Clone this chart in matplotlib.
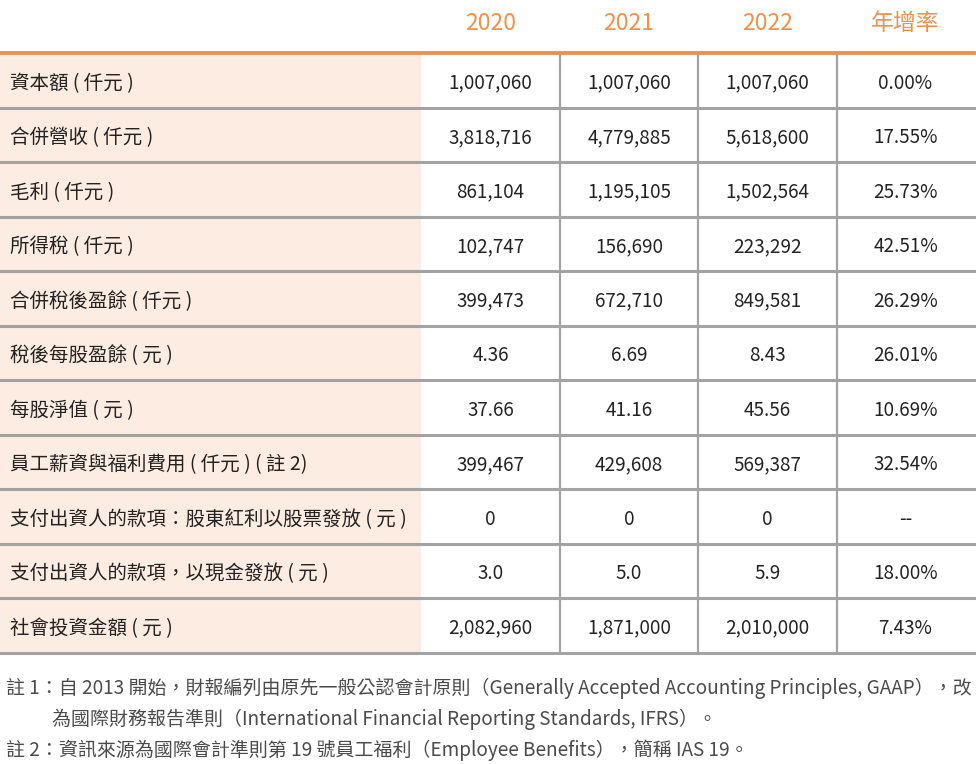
"""Key financial figures table, 2020-2022."""
import matplotlib
matplotlib.use("Agg")
import matplotlib.pyplot as plt

plt.rcParams["font.family"] = ["Noto Sans CJK TC", "DejaVu Sans"]

headers = ["2020", "2021", "2022", "年增率"]
labels = ["資本額 ( 仟元 )", "合併營收 ( 仟元 )", "毛利 ( 仟元 )", "所得稅 ( 仟元 )",
          "合併稅後盈餘 ( 仟元 )", "稅後每股盈餘 ( 元 )", "每股淨值 ( 元 )",
          "員工薪資與福利費用 ( 仟元 ) ( 註 2)", "支付出資人的款項：股東紅利以股票發放 ( 元 )",
          "支付出資人的款項，以現金發放 ( 元 )", "社會投資金額 ( 元 )"]
v2020 = ["1,007,060", "3,818,716", "861,104", "102,747", "399,473", "4.36", "37.66",
         "399,467", "0", "3.0", "2,082,960"]
v2021 = ["1,007,060", "4,779,885", "1,195,105", "156,690", "672,710", "6.69", "41.16",
         "429,608", "0", "5.0", "1,871,000"]
v2022 = ["1,007,060", "5,618,600", "1,502,564", "223,292", "849,581", "8.43", "45.56",
         "569,387", "0", "5.9", "2,010,000"]
growth = ["0.00%", "17.55%", "25.73%", "42.51%", "26.29%", "26.01%", "10.69%",
          "32.54%", "--", "18.00%", "7.43%"]
notes = ["註 1：自 2013 開始，財報編列由原先一般公認會計原則（Generally Accepted Accounting Principles, GAAP），改",
         "為國際財務報告準則（International Financial Reporting Standards, IFRS）。",
         "註 2：資訊來源為國際會計準則第 19 號員工福利（Employee Benefits），簡稱 IAS 19。"]

ORANGE = "#F0904A"
PEACH = "#FCECE1"
GRID = "#A3A3A3"
TEXT = "#222222"

W, H = 976, 764
fig = plt.figure(figsize=(W / 100, H / 100), dpi=100)
ax = fig.add_axes([0, 0, 1, 1])
ax.set_xlim(0, W); ax.set_ylim(H, 0); ax.axis("off")

top, row_h = 53, 54.5
n = len(labels)
bottom = top + n * row_h
col_edges = [421, 560, 698, 837, 974]
centers = [(a + b) / 2 for a, b in zip(col_edges[:-1], col_edges[1:])]

# label column background
ax.add_patch(plt.Rectangle((0, top), col_edges[0], bottom - top, color=PEACH, lw=0, zorder=0))

# header
for x, h in zip(centers, headers):
    ax.text(x, 24, h, color=ORANGE, fontsize=16.5, ha="center", va="center")

# grid lines
for i in range(1, n + 1):
    ax.plot([0, col_edges[-1]], [top + i * row_h] * 2, color=GRID, lw=2.2, zorder=2)
for x in col_edges[1:-1]:
    ax.plot([x, x], [top, bottom], color=GRID, lw=1.6, zorder=2)
ax.plot([0, col_edges[-1]], [top, top], color=ORANGE, lw=2.8, zorder=3)

# body
cols = [v2020, v2021, v2022, growth]
for i, lab in enumerate(labels):
    y = top + (i + 0.5) * row_h + 3
    ax.text(10, y, lab, color=TEXT, fontsize=14, ha="left", va="center")
    for x, col in zip(centers, cols):
        ax.text(x, y, col[i], color=TEXT, fontsize=13.6, ha="center", va="center")

# footnotes, sized to fill the width
r = fig.canvas.get_renderer()
note_pos = [(6, 688), (52, 719), (6, 750)]
texts = [ax.text(x, y, s, color="#4A4A4A", fontsize=12, ha="left", va="center")
         for (x, y), s in zip(note_pos, notes)]
w = texts[0].get_window_extent(r).width
scale = (W - 12) / w
for t in texts:
    t.set_fontsize(12 * scale)

fig.savefig("out.png", dpi=100)
